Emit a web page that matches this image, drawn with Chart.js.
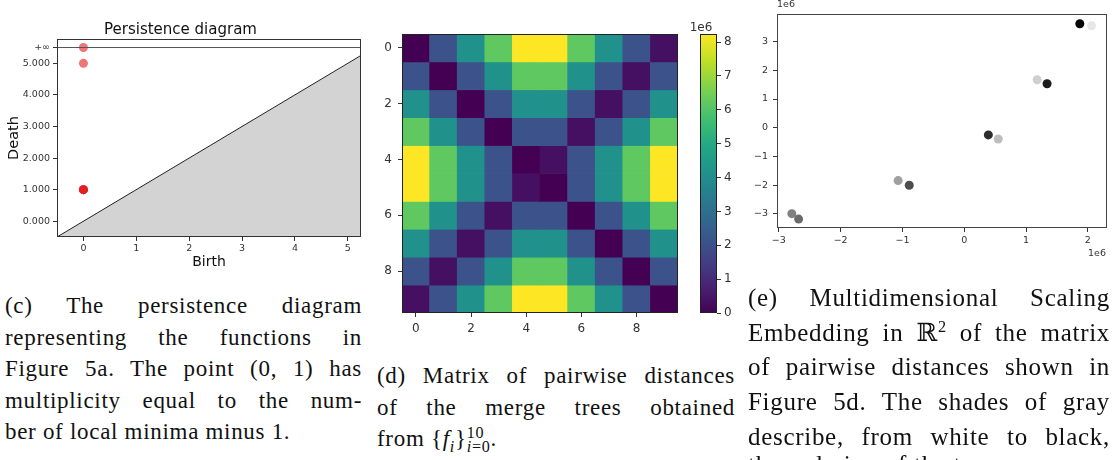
<!DOCTYPE html>
<html>
<head>
<meta charset="utf-8">
<script src="https://cdn.jsdelivr.net/npm/chart.js@4.4.0/dist/chart.umd.min.js"></script>
<style>
  body { margin: 0; width: 1114px; height: 460px; overflow: hidden; background: #fff; position: relative; }
  .box { position: absolute; }
  .cap { position: absolute; font-family: 'Liberation Serif', 'DejaVu Serif', serif; color: #111; letter-spacing: 0.7px; }
  .cap div { text-align: justify; text-align-last: justify; overflow: visible; }
  .cap div.last { text-align-last: left; }
  .cd div { height: 31.5px; }
  .ce div { height: 34.7px; }
  .ce div.last { position: relative; top: -6px; }
  sup, sub { line-height: 0; }
  .frac { display: inline-block; vertical-align: -0.35em; line-height: 0.85; font-size: 0.7em; text-align: left; height: 0.9em; }
  .frac span { display: block; }
</style>
</head>
<body>
<div class="box" style="left:0;top:0;width:370px;height:280px"><canvas id="pd"></canvas></div>
<div class="box" style="left:370px;top:0;width:320px;height:340px"><canvas id="heat"></canvas></div>
<div class="box" style="left:690px;top:0;width:60px;height:340px"><canvas id="cbar"></canvas></div>
<div class="box" style="left:740px;top:0;width:374px;height:275px"><canvas id="mds"></canvas></div>

<div class="cap cd" style="left:5px;top:290px;width:357px;font-size:23px;line-height:31.5px">
  <div>(c) The persistence diagram</div>
  <div>representing the functions in</div>
  <div>Figure 5a. The point (0, 1) has</div>
  <div>multiplicity equal to the num-</div>
  <div class="last">ber of local minima minus 1.</div>
</div>
<div class="cap cd" style="left:377px;top:360px;width:358px;font-size:23px;line-height:31.5px">
  <div>(d) Matrix of pairwise distances</div>
  <div>of the merge trees obtained</div>
  <div class="last">from {<i>f<sub style="font-size:0.7em">i</sub></i>}<span class="frac"><span>10</span><span><i>i</i>=0</span></span>.</div>
</div>
<div class="cap ce" style="left:748px;top:281px;width:362px;font-size:25px;line-height:34.7px">
  <div>(e) Multidimensional Scaling</div>
  <div>Embedding in ℝ<sup style="font-size:0.65em">2</sup> of the matrix</div>
  <div>of pairwise distances shown in</div>
  <div>Figure 5d. The shades of gray</div>
  <div>describe, from white to black,</div>
  <div class="last">the ordering of the trees.</div>
</div>

<script>
// ---- (c) persistence diagram ----
const births = [0, 0, 0, 0, 0, 0];
const deaths = [Infinity, 5, 1, 1, 1, 1];
const infLevel = 5.5;
const birthTicks = [0, 1, 2, 3, 4, 5];
const deathTicks = [0, 1, 2, 3, 4, 5];
const diagLimits = [-0.5, 5.25];
const deathTop = 5.77;

// ---- (d) pairwise distances (units of 1e6) ----
const treeIdx = [0, 1, 2, 3, 4, 5, 6, 7, 8, 9];
const distRows = [
  [0.00, 2.06, 4.12, 6.18, 8.24, 8.24, 6.18, 4.12, 2.06, 0.35],
  [2.06, 0.00, 2.06, 4.12, 6.18, 6.18, 4.12, 2.06, 0.35, 2.06],
  [4.12, 2.06, 0.00, 2.06, 4.12, 4.12, 2.06, 0.35, 2.06, 4.12],
  [6.18, 4.12, 2.06, 0.00, 2.06, 2.06, 0.35, 2.06, 4.12, 6.18],
  [8.24, 6.18, 4.12, 2.06, 0.00, 0.35, 2.06, 4.12, 6.18, 8.24],
  [8.24, 6.18, 4.12, 2.06, 0.35, 0.00, 2.06, 4.12, 6.18, 8.24],
  [6.18, 4.12, 2.06, 0.35, 2.06, 2.06, 0.00, 2.06, 4.12, 6.18],
  [4.12, 2.06, 0.35, 2.06, 4.12, 4.12, 2.06, 0.00, 2.06, 4.12],
  [2.06, 0.35, 2.06, 4.12, 6.18, 6.18, 4.12, 2.06, 0.00, 2.06],
  [0.35, 2.06, 4.12, 6.18, 8.24, 8.24, 6.18, 4.12, 2.06, 0.00]
];
const cbarMax = 8.24;
const cbarTicks = [0, 1, 2, 3, 4, 5, 6, 7, 8];
const heatTicks = [0, 2, 4, 6, 8];

// ---- (e) MDS embedding (units of 1e6), trees 0..9 ----
const mdsX = [2.06, 1.18, 0.55, -1.07, -2.79, -2.68, -0.89, 0.39, 1.34, 1.87];
const mdsY = [3.55, 1.67, -0.39, -1.84, -2.99, -3.18, -2.00, -0.25, 1.53, 3.62];
const mdsGray = ['#e6e6e6', '#cfcfcf', '#bdbdbd', '#a0a0a0', '#808080', '#6b6b6b', '#4d4d4d', '#2e2e2e', '#1c1c1c', '#050505'];
const mdsXTicks = [-3, -2, -1, 0, 1, 2];
const mdsYTicks = [-3, -2, -1, 0, 1, 2, 3];

const viridisStops = ['#440154', '#482475', '#414487', '#355f8d', '#2a788e', '#21918c',
                      '#22a884', '#44bf70', '#7ad151', '#bddf26', '#fde725'];

Chart.defaults.font.family = 'DejaVu Sans';
Chart.defaults.color = '#333';
Chart.defaults.animation = false;
Chart.defaults.plugins.legend.display = false;
Chart.defaults.plugins.tooltip.enabled = false;

function hexRgb(h) {
  return [1, 3, 5].map(i => parseInt(h.slice(i, i + 2), 16));
}
function viridis(t) {
  t = Math.max(0, Math.min(1, t));
  const p = t * (viridisStops.length - 1);
  const i = Math.min(Math.floor(p), viridisStops.length - 2);
  const f = p - i;
  const a = hexRgb(viridisStops[i]), b = hexRgb(viridisStops[i + 1]);
  const c = a.map((v, k) => Math.round(v + (b[k] - v) * f));
  return `rgb(${c[0]},${c[1]},${c[2]})`;
}
const minus = v => (v < 0 ? '\u2212' + Math.abs(v) : String(v));
const fixTicks = vals => scale => { scale.ticks = vals.map(v => ({ value: v })); };
const fixWidth = w => scale => { scale.width = w; };
const fixHeight = h => scale => { scale.height = h; };

// frame round the plot area plus little offset texts ("1e6")
const framePlugin = {
  id: 'frame',
  afterDatasetsDraw(chart, args, opts) {
    const { left, top, right, bottom } = chart.chartArea;
    const ctx = chart.ctx;
    ctx.save();
    ctx.strokeStyle = opts.color || '#333';
    ctx.lineWidth = 1;
    ctx.strokeRect(Math.round(left) + 0.5, Math.round(top) + 0.5,
                   Math.round(right - left) - 1, Math.round(bottom - top) - 1);
    (opts.notes || []).forEach(n => {
      ctx.font = `${n.size}px DejaVu Sans`;
      ctx.fillStyle = '#333';
      ctx.textAlign = n.align;
      ctx.textBaseline = 'middle';
      ctx.fillText(n.text, n.x, n.y);
    });
    ctx.restore();
  }
};

const tickGrid = { drawOnChartArea: false, drawTicks: true, tickLength: 4, color: '#333' };

// (c)
const finiteDeaths = deaths.map(d => (isFinite(d) ? d : infLevel));
new Chart(document.getElementById('pd'), {
  type: 'scatter',
  data: {
    datasets: [
      {
        type: 'line',
        data: diagLimits.map(v => ({ x: v, y: v })),
        borderColor: '#222', borderWidth: 1, pointRadius: 0,
        fill: 'start', backgroundColor: '#d3d3d3'
      },
      {
        type: 'line',
        data: diagLimits.map(v => ({ x: v, y: infLevel })),
        borderColor: '#555', borderWidth: 1, pointRadius: 0, fill: false
      },
      {
        data: births.map((b, i) => ({ x: b, y: finiteDeaths[i] })),
        pointBackgroundColor: 'rgba(228,26,28,0.6)', pointBorderWidth: 0, pointRadius: 4.5
      }
    ]
  },
  options: {
    responsive: true, maintainAspectRatio: false,
    layout: { padding: { left: 0, right: 9, top: 0, bottom: 0 } },
    plugins: {
      title: { display: true, text: 'Persistence diagram', color: '#111',
               font: { size: 15, weight: 'normal' }, padding: { top: 21, bottom: 0 } },
      frame: { color: '#333' }
    },
    scales: {
      x: {
        type: 'linear', min: diagLimits[0], max: diagLimits[1],
        afterBuildTicks: fixTicks(birthTicks), afterFit: fixHeight(43),
        grid: tickGrid, border: { display: false },
        ticks: { font: { size: 9.5 }, padding: 2, maxRotation: 0 },
        title: { display: true, text: 'Birth', color: '#111', font: { size: 14 }, padding: { top: 9, bottom: 9 } }
      },
      y: {
        type: 'linear', min: diagLimits[0], max: deathTop,
        afterBuildTicks: fixTicks(deathTicks.concat([infLevel])), afterFit: fixWidth(57),
        grid: tickGrid, border: { display: false },
        ticks: { font: { size: 9.5 }, padding: 3,
                 callback: v => (v === infLevel ? '+\u221e' : v.toFixed(3)) },
        title: { display: true, text: 'Death', color: '#111', font: { size: 14.5 }, padding: { top: 5.5, bottom: 5.5 } }
      }
    }
  },
  plugins: [framePlugin]
});

// (d) heatmap, one floating-bar dataset per row
new Chart(document.getElementById('heat'), {
  type: 'bar',
  data: {
    labels: treeIdx.map(String),
    datasets: distRows.map((row, r) => ({
      data: row.map(() => [treeIdx[r], treeIdx[r] + 1]),
      backgroundColor: row.map(v => viridis(v / cbarMax)),
      borderWidth: 0, barPercentage: 1, categoryPercentage: 1, grouped: false
    }))
  },
  options: {
    responsive: true, maintainAspectRatio: false,
    layout: { padding: { left: 0, right: 12, top: 34, bottom: 0 } },
    plugins: { frame: { color: '#222' } },
    scales: {
      x: {
        offset: true, afterFit: fixHeight(27),
        grid: Object.assign({}, tickGrid, { offset: false }), border: { display: false },
        ticks: { font: { size: 12 }, padding: 4.5, maxRotation: 0, autoSkip: false,
                 callback: (v, i) => (heatTicks.includes(i) ? String(treeIdx[i]) : null) }
      },
      y: {
        type: 'linear', min: 0, max: treeIdx.length, reverse: true,
        afterBuildTicks: fixTicks(heatTicks.map(v => v + 0.5)), afterFit: fixWidth(32),
        grid: tickGrid, border: { display: false },
        ticks: { font: { size: 12 }, padding: 6, callback: v => String(v - 0.5) }
      }
    }
  },
  plugins: [framePlugin]
});

// colour bar
new Chart(document.getElementById('cbar'), {
  type: 'bar',
  data: {
    labels: ['d'],
    datasets: [{
      data: [[0, cbarMax]],
      borderWidth: 0, barPercentage: 1, categoryPercentage: 1,
      backgroundColor: ctx => {
        const a = ctx.chart.chartArea;
        if (!a) return viridisStops[0];
        const g = ctx.chart.ctx.createLinearGradient(0, a.bottom, 0, a.top);
        viridisStops.forEach((c, i) => g.addColorStop(i / (viridisStops.length - 1), c));
        return g;
      }
    }]
  },
  options: {
    responsive: true, maintainAspectRatio: false,
    layout: { padding: { left: 10, right: 0, top: 34, bottom: 27 } },
    plugins: { frame: { color: '#222', notes: [{ text: '1e6', x: 11, y: 28, size: 12, align: 'center' }] } },
    scales: {
      x: { display: false },
      y: {
        type: 'linear', position: 'right', min: 0, max: cbarMax,
        afterBuildTicks: fixTicks(cbarTicks), afterFit: fixWidth(33),
        grid: tickGrid, border: { display: false },
        ticks: { font: { size: 12 }, padding: 3 }
      }
    }
  },
  plugins: [framePlugin]
});

// (e) MDS scatter
new Chart(document.getElementById('mds'), {
  type: 'scatter',
  data: {
    datasets: [{
      data: mdsX.map((x, i) => ({ x, y: mdsY[i] })),
      pointBackgroundColor: mdsGray, pointBorderWidth: 0, pointRadius: 4.5
    }]
  },
  options: {
    responsive: true, maintainAspectRatio: false,
    layout: { padding: { left: 0, right: 7, top: 14, bottom: 0 } },
    plugins: {
      frame: { color: '#444', notes: [
        { text: '1e6', x: 37, y: 5, size: 9.5, align: 'left' },
        { text: '1e6', x: 357, y: 254, size: 9.5, align: 'center' }
      ] }
    },
    scales: {
      x: {
        type: 'linear', min: -3.03, max: 2.31,
        afterBuildTicks: fixTicks(mdsXTicks), afterFit: fixHeight(47),
        grid: tickGrid, border: { display: false },
        ticks: { font: { size: 9.5 }, padding: 3, maxRotation: 0, callback: minus }
      },
      y: {
        type: 'linear', min: -3.49, max: 3.96,
        afterBuildTicks: fixTicks(mdsYTicks), afterFit: fixWidth(37),
        grid: tickGrid, border: { display: false },
        ticks: { font: { size: 9.5 }, padding: 5, callback: minus }
      }
    }
  },
  plugins: [framePlugin]
});
</script>
</body>
</html>
